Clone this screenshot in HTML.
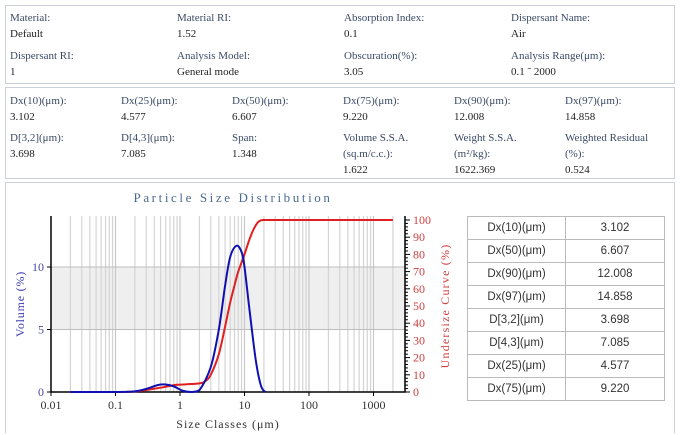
<!DOCTYPE html>
<html><head><meta charset="utf-8">
<style>
body{margin:0;width:680px;height:435px;background:#fff;overflow:hidden;font-family:"Liberation Serif","Noto Serif CJK SC",serif;color:#333;}
.panel{position:absolute;border:1px solid #c9d0da;background:#fff;}
.t{position:absolute;font-size:11px;white-space:nowrap;color:#3a4a66;}
.v{position:absolute;font-size:11px;white-space:nowrap;color:#222;}
table{position:absolute;left:467px;top:216px;border-collapse:collapse;font-family:"Liberation Sans",sans-serif;font-size:11.5px;color:#333;}
td{border:1px solid #bbb;height:22px;text-align:center;padding:0;}
</style></head><body>
<div class="panel" style="left:5px;top:5px;width:668px;height:77px;">
<span class="t" style="left:4px;top:6px">Material:</span><span class="v" style="left:4px;top:22px">Default</span>
<span class="t" style="left:171px;top:6px">Material RI:</span><span class="v" style="left:171px;top:22px">1.52</span>
<span class="t" style="left:338px;top:6px">Absorption Index:</span><span class="v" style="left:338px;top:22px">0.1</span>
<span class="t" style="left:505px;top:6px">Dispersant Name:</span><span class="v" style="left:505px;top:22px">Air</span>
<span class="t" style="left:4px;top:44px">Dispersant RI:</span><span class="v" style="left:4px;top:60px">1</span>
<span class="t" style="left:171px;top:44px">Analysis Model:</span><span class="v" style="left:171px;top:60px">General mode</span>
<span class="t" style="left:338px;top:44px">Obscuration(%):</span><span class="v" style="left:338px;top:60px">3.05</span>
<span class="t" style="left:505px;top:44px">Analysis Range(μm):</span><span class="v" style="left:505px;top:60px">0.1 ˜ 2000</span>
</div>
<div class="panel" style="left:5px;top:87px;width:668px;height:90px;">
<span class="t" style="left:4px;top:7px">Dx(10)(μm):</span><span class="v" style="left:4px;top:23px">3.102</span>
<span class="t" style="left:115px;top:7px">Dx(25)(μm):</span><span class="v" style="left:115px;top:23px">4.577</span>
<span class="t" style="left:226px;top:7px">Dx(50)(μm):</span><span class="v" style="left:226px;top:23px">6.607</span>
<span class="t" style="left:337px;top:7px">Dx(75)(μm):</span><span class="v" style="left:337px;top:23px">9.220</span>
<span class="t" style="left:448px;top:7px">Dx(90)(μm):</span><span class="v" style="left:448px;top:23px">12.008</span>
<span class="t" style="left:559px;top:7px">Dx(97)(μm):</span><span class="v" style="left:559px;top:23px">14.858</span>
<span class="t" style="left:4px;top:44px">D[3,2](μm):</span><span class="v" style="left:4px;top:60px">3.698</span>
<span class="t" style="left:115px;top:44px">D[4,3](μm):</span><span class="v" style="left:115px;top:60px">7.085</span>
<span class="t" style="left:226px;top:44px">Span:</span><span class="v" style="left:226px;top:60px">1.348</span>
<span class="t" style="left:337px;top:44px">Volume S.S.A.</span><span class="t" style="left:337px;top:60px">(sq.m/c.c.):</span><span class="v" style="left:337px;top:76px">1.622</span>
<span class="t" style="left:448px;top:44px">Weight S.S.A.</span><span class="t" style="left:448px;top:60px">(m²/kg):</span><span class="v" style="left:448px;top:76px">1622.369</span>
<span class="t" style="left:559px;top:44px">Weighted Residual</span><span class="t" style="left:559px;top:60px">(%):</span><span class="v" style="left:559px;top:76px">0.524</span>
</div>
<div class="panel" style="left:5px;top:182px;width:668px;height:250px;border-bottom:none;"></div>
<svg id="chart" width="680" height="435" style="position:absolute;left:0;top:0"></svg>
<table>
<tr><td style="width:97px">Dx(10)(μm)</td><td style="width:98px">3.102</td></tr>
<tr><td>Dx(50)(μm)</td><td>6.607</td></tr>
<tr><td>Dx(90)(μm)</td><td>12.008</td></tr>
<tr><td>Dx(97)(μm)</td><td>14.858</td></tr>
<tr><td>D[3,2](μm)</td><td>3.698</td></tr>
<tr><td>D[4,3](μm)</td><td>7.085</td></tr>
<tr><td>Dx(25)(μm)</td><td>4.577</td></tr>
<tr><td>Dx(75)(μm)</td><td>9.220</td></tr>
</table>
<script>
const volSizes=[0.02,0.1,0.2,0.3,0.45,0.6,0.8,1.1,1.5,2,3,4,5,6,7.5,9,10,12,15,18,21];
const volValues=[0,0,0.05,0.25,0.55,0.6,0.45,0.1,0,0.15,2,5,8.5,10.8,11.7,11.2,10,6.5,2.5,0.5,0];
const cumSizes=[0.02,0.1,0.2,0.5,0.8,1,2,2.5,3,4,5,6,7,8,10,12,14,16,18,21,30,100,2000];
const cumValues=[0,0,0.3,2.5,4,4.3,5,6.5,10,22,38,52,62,70,80,89,95,98.5,99.8,100,100,100,100];
const xTicks=[0.01,0.1,1,10,100,1000];
const xTickLabels=["0.01","0.1","1","10","100","1000"];
const yTicks=[0,5,10];
const y2Ticks=[0,10,20,30,40,50,60,70,80,90,100];
const NS="http://www.w3.org/2000/svg";
const svg=document.getElementById('chart');
const X0=51,DEC=64.5,LEFT=51,RIGHT=405,Y0=392;
const xs=v=>X0+Math.log10(v/0.01)*DEC;
const ys=v=>Y0-v*12.5;
const y2=v=>Y0-v*1.72;
function el(t,a,p){const e=document.createElementNS(NS,t);for(const k in a)e.setAttribute(k,a[k]);(p||svg).appendChild(e);return e;}
function tx(x,y,s,a){const e=el('text',Object.assign({x:x,y:y,'font-family':'Liberation Serif,serif','font-size':12},a));e.textContent=s;return e;}
const band=el('rect',{x:LEFT,y:ys(10),width:RIGHT-LEFT,height:ys(5)-ys(10),fill:'#efefef'});


for(let d=0.01;d<2000;d*=10){for(let m=2;m<=9;m++){const v=d*m;if(v<0.02||v>2000.1)continue;const g=el('line',{x1:xs(v),x2:xs(v),y1:216,y2:Y0,stroke:'#d4d4d4','stroke-width':1.2});}}
for(const v of [0.1,1,10,100,1000]){const g=el('line',{x1:xs(v),x2:xs(v),y1:216,y2:Y0,stroke:'#c8c8c8','stroke-width':1.2});}
for(const v of [5,10]){const g=el('line',{x1:LEFT,x2:RIGHT,y1:ys(v),y2:ys(v),stroke:'#bdbdbd'});}
const ax=el('path',{d:`M${LEFT} 216V${Y0}H${RIGHT}V216`,stroke:'#000','stroke-width':1.5,fill:'none'});


xTicks.forEach((v,i)=>{el('line',{x1:xs(v),x2:xs(v),y1:Y0,y2:Y0+4,stroke:'#000'});const t=tx(xs(v),Y0+17,xTickLabels[i],{'text-anchor':'middle',fill:'#333'});});
yTicks.forEach(v=>{el('line',{x1:LEFT-4,x2:LEFT,y1:ys(v),y2:ys(v),stroke:'#000'});const t=tx(LEFT-7,ys(v)+4,String(v),{'text-anchor':'end',fill:'#4a4aa0'});});
for(let v=0;v<=100;v+=2){el('line',{x1:RIGHT,x2:RIGHT+(v%10?3:5),y1:y2(v),y2:y2(v),stroke:'#000'});}
y2Ticks.forEach(v=>{const t=tx(RIGHT+8,y2(v)+4,String(v),{fill:'#d04040'});});
let t=tx(233,202,'Particle Size Distribution',{'text-anchor':'middle',fill:'#4a6a90','font-size':13,'letter-spacing':2.6});
t=tx(228,428,'Size Classes (μm)',{'text-anchor':'middle',fill:'#333','letter-spacing':1});
t=tx(0,0,'Volume  (%)',{transform:'translate(24,304) rotate(-90)','text-anchor':'middle',fill:'#3a3ab0','letter-spacing':0.8});
t=tx(0,0,'Undersize  Curve  (%)',{transform:'translate(449,306) rotate(-90)','text-anchor':'middle',fill:'#d04040','letter-spacing':1.2});
function smooth(px){let d=`M${px[0][0]} ${px[0][1]}`;for(let i=0;i<px.length-1;i++){const p0=px[Math.max(0,i-1)],p1=px[i],p2=px[i+1],p3=px[Math.min(px.length-1,i+2)];const c1=[p1[0]+(p2[0]-p0[0])/6,p1[1]+(p2[1]-p0[1])/6],c2=[p2[0]-(p3[0]-p1[0])/6,p2[1]-(p3[1]-p1[1])/6];const lo=Math.min(p1[1],p2[1]),hi=Math.max(p1[1],p2[1]);const cl=(y,mono)=>Math.min(Y0,y);d+=`C${c1[0]} ${cl(c1[1])} ${c2[0]} ${cl(c2[1])} ${p2[0]} ${p2[1]}`;}return d;}
function linearish(px){return 'M'+px.map(p=>p[0]+' '+p[1]).join('L');}
const cum=el('path',{d:smooth(cumSizes.map((s,i)=>[xs(s),y2(cumValues[i])])),stroke:'#e02020','stroke-width':2,fill:'none'});


const vol=el('path',{d:smooth(volSizes.map((s,i)=>[xs(s),ys(volValues[i])])),stroke:'#1010b0','stroke-width':2,fill:'none'});


</script>
</body></html>
